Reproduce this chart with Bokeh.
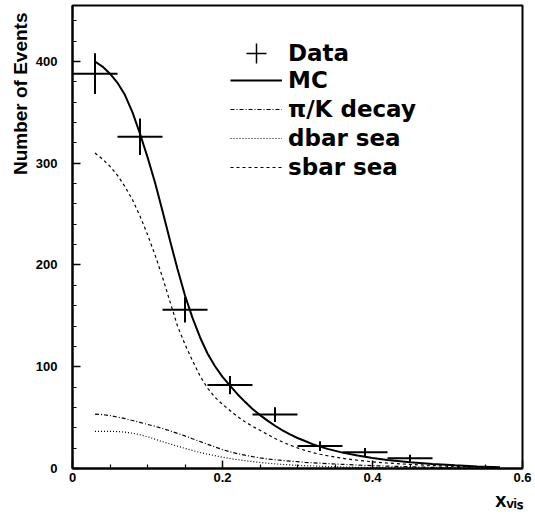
import math
from bokeh.plotting import figure
from bokeh.models import (Range1d, FixedTicker, NumeralTickFormatter, Title,
                          Legend, LegendItem)
from bokeh.embed import file_html
from bokeh.resources import INLINE

# ---- data ----
bin_centers = [0.03, 0.09, 0.15, 0.21, 0.27, 0.33, 0.39, 0.45]
counts      = [388, 326, 156, 82, 53, 22, 16, 10]
errors      = [20, 18, 12.5, 9, 7.3, 4.7, 4.2, 3.4]
bin_half_width = 0.03

curve_x = [0.03, 0.04, 0.05, 0.06, 0.07, 0.08, 0.09, 0.10, 0.11, 0.12, 0.13, 0.14,
           0.15, 0.16, 0.17, 0.18, 0.19, 0.20, 0.21, 0.22, 0.23, 0.24, 0.25, 0.26,
           0.27, 0.28, 0.29, 0.30, 0.31, 0.32, 0.33, 0.34, 0.36, 0.38, 0.40, 0.42,
           0.45, 0.48, 0.51, 0.54, 0.57]
mc_total  = [400, 395, 388, 379, 367, 350, 329, 306, 281, 253, 224, 196,
             170, 148, 129, 113, 100.5, 90, 81.5, 73, 65.5, 58.5, 52.5, 47,
             42, 37.5, 33.5, 30, 27, 24, 21.5, 19.3, 15.6, 12.7, 10.3, 8.4,
             6.2, 4.5, 3.1, 2.0, 1.2]
pik_decay = [53.5, 53, 52, 50.5, 49, 47.2, 45.3, 43.3, 41.5, 39.3, 37, 34.5,
             32, 29.2, 26.5, 23.8, 21.2, 18.6, 16.4, 14.6, 13.1, 11.7, 10.4, 9.4,
             8.6, 7.9, 7.3, 6.7, 6.1, 5.6, 5.2, 4.8, 4.1, 3.4, 2.8, 2.3,
             1.7, 1.2, 0.8, 0.5, 0.3]
dbar_sea  = [36.4, 36.5, 36.5, 36.3, 35.7, 34.7, 33.2, 31.2, 28.8, 26.4, 24.1, 21.9,
             19.8, 17.7, 15.8, 14.1, 12.6, 11.1, 9.8, 8.7, 7.7, 6.8, 5.9, 5.2,
             4.6, 4.0, 3.5, 3.1, 2.8, 2.5, 2.2, 1.9, 1.5, 1.2, 0.9, 0.7,
             0.5, 0.35, 0.2, 0.1, 0.05]
sbar_sea  = [310, 304, 297, 288, 277, 264, 248, 230, 210, 188, 164, 140,
             122, 106, 91, 79, 70, 63, 57, 51, 46, 41.5, 37.5, 33.5,
             29.5, 26, 23, 20.2, 17.8, 15.7, 14, 12.5, 10, 8.1, 6.6, 5.4,
             4.0, 2.9, 2.1, 1.4, 0.85]

x_major_ticks = [0, 0.2, 0.4, 0.6]
x_minor_ticks = [0.05, 0.1, 0.15, 0.25, 0.3, 0.35, 0.45, 0.5, 0.55]
y_major_ticks = [0, 100, 200, 300, 400]
y_minor_ticks = [20, 40, 60, 80, 120, 140, 160, 180, 220, 240, 260, 280,
                 320, 340, 360, 380, 420, 440]

legend_labels = ["Data", "MC", "\u03c0/K decay", "dbar sea", "sbar sea"]
y_title = "Number of Events"
x_title = "x\u1d65\u1d62\u209b"

# ---- figure ----
p = figure(width=535, height=515, x_range=Range1d(0, 0.6), y_range=Range1d(0, 455),
           output_backend="svg", toolbar_location=None,
           min_border_left=72, min_border_right=13, min_border_top=5,
           min_border_bottom=47, background_fill_color="white",
           border_fill_color="white")
p.grid.visible = False
p.outline_line_color = "black"
p.outline_line_width = 2

TICK_FONT = "Liberation Sans"
for ax in (p.xaxis[0], p.yaxis[0]):
    ax.axis_line_width = 2
    ax.axis_line_color = "black"
    ax.major_tick_in = 8
    ax.major_tick_out = 0
    ax.minor_tick_in = 4
    ax.minor_tick_out = 0
    ax.major_tick_line_width = 1.5
    ax.minor_tick_line_width = 1.2
    ax.major_label_text_font = TICK_FONT
    ax.major_label_text_font_style = "bold"
    ax.major_label_text_font_size = "13px"
    ax.major_label_text_color = "black"

p.xaxis.ticker = FixedTicker(ticks=x_major_ticks, minor_ticks=x_minor_ticks)
p.yaxis.ticker = FixedTicker(ticks=y_major_ticks, minor_ticks=y_minor_ticks)
p.xaxis.formatter = NumeralTickFormatter(format="0.[0]")
p.yaxis.formatter = NumeralTickFormatter(format="0")
p.xaxis.major_label_standoff = 4
p.yaxis.major_label_standoff = 15

# ---- data points with error bars ----
x_lo = [c - bin_half_width for c in bin_centers]
x_hi = [c + bin_half_width for c in bin_centers]
y_lo = [c - e for c, e in zip(counts, errors)]
y_hi = [c + e for c, e in zip(counts, errors)]
p.segment(x0=x_lo, y0=counts, x1=x_hi, y1=counts, line_color="black", line_width=2)
p.segment(x0=bin_centers, y0=y_lo, x1=bin_centers, y1=y_hi, line_color="black", line_width=2)
data_r = p.scatter(bin_centers, counts, marker="cross", size=0, line_color="black",
                   line_width=1.5)

# ---- curves ----
r_mc = p.line(curve_x, mc_total, line_color="black", line_width=2)
r_pik = p.line(curve_x, pik_decay, line_color="black", line_width=1.2,
               line_dash="4 2 1 2")
r_dbar = p.line(curve_x, dbar_sea, line_color="black", line_width=1.2,
                line_dash="1 2")
r_sbar = p.line(curve_x, sbar_sea, line_color="black", line_width=1.2,
                line_dash="3 3")

# ---- legends ----
LEG_FONT = "DejaVu Sans"
def style_legend(leg):
    leg.padding = 0
    leg.margin = 0
    leg.border_line_alpha = 0
    leg.background_fill_alpha = 0
    leg.label_text_font = LEG_FONT
    leg.label_text_font_style = "bold"
    leg.label_text_font_size = "23px"
    leg.label_text_color = "black"
    leg.label_standoff = 6
    leg.glyph_width = 52

leg1 = Legend(items=[LegendItem(label=legend_labels[0], renderers=[data_r])],
              location=(158, 390))
style_legend(leg1)
leg1.glyph_height = 50
leg1.label_height = 50

leg2 = Legend(items=[LegendItem(label=legend_labels[1], renderers=[r_mc]),
                     LegendItem(label=legend_labels[2], renderers=[r_pik]),
                     LegendItem(label=legend_labels[3], renderers=[r_dbar]),
                     LegendItem(label=legend_labels[4], renderers=[r_sbar])],
              location=(158, 288))
style_legend(leg2)
leg2.glyph_height = 20
leg2.label_height = 20
leg2.spacing = 3
p.add_layout(leg1)
p.add_layout(leg2)

# ---- axis titles (side panels, so they are not clipped) ----
p.add_layout(Title(text=y_title, align="right", offset=7, standoff=4,
                   text_font=TICK_FONT, text_font_style="bold",
                   text_font_size="19px", text_color="black"), "left")
p.add_layout(Title(text=x_title, align="right", offset=0, standoff=4,
                   text_font=TICK_FONT, text_font_style="bold",
                   text_font_size="20px", text_color="black"), "below")

open("out.html", "w").write(file_html(p, INLINE))
